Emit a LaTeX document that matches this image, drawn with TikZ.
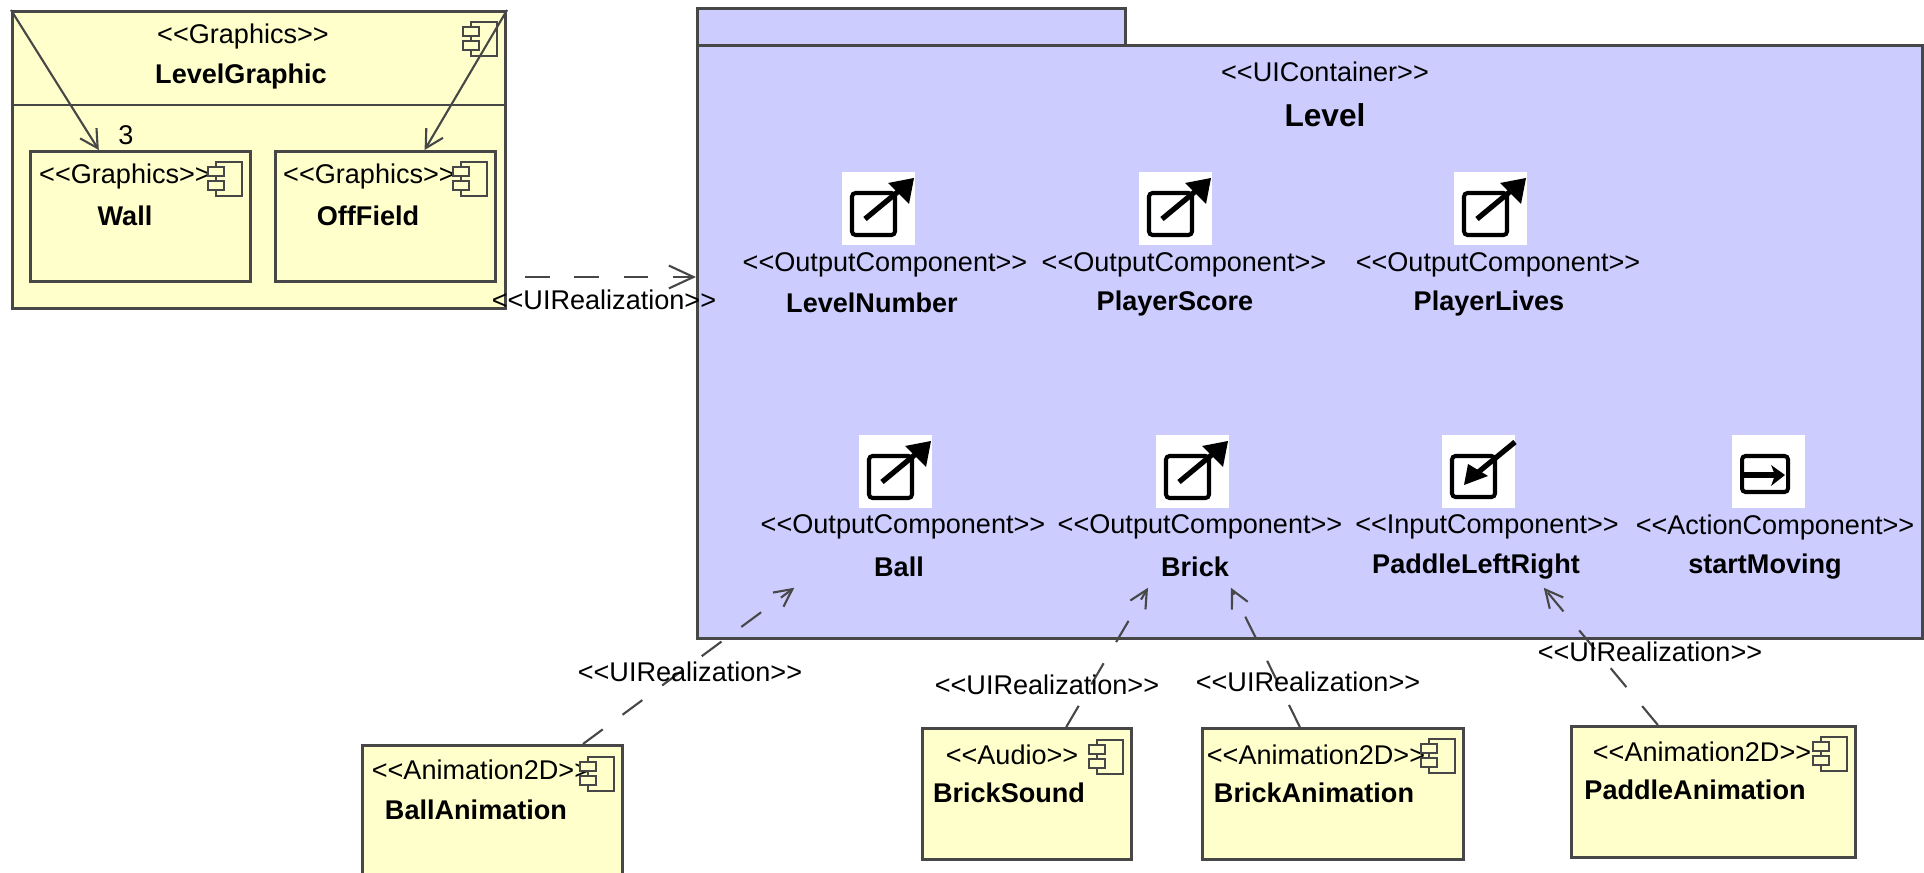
\documentclass[tikz,border=0pt]{standalone}
\usepackage{fontspec}
\newfontfamily\uisf{Liberation Sans}
\usetikzlibrary{arrows.meta}

\definecolor{compyellow}{HTML}{FFFFCC}
\definecolor{pkgblue}{HTML}{CCCCFF}
\definecolor{umlgray}{HTML}{474747}

\tikzset{
  boxline/.style={draw=umlgray, line width=0.8pt},
  compbox/.style={boxline, fill=compyellow, anchor=north west, inner sep=0pt},
  pkgbox/.style={boxline, fill=pkgblue, anchor=north west, inner sep=0pt},
  uibox/.style={inner sep=0pt, minimum width=2.9cm, minimum height=1.52cm},
  stereo/.style={font=\uisf\fontsize{7.7}{9}\selectfont, inner sep=0pt},
  cname/.style={font=\uisf\bfseries\fontsize{7.7}{9}\selectfont, inner sep=0pt},
  nest/.style={draw=umlgray, line width=0.6pt, -{Straight Barb[length=5pt,width=5.5pt]}},
  uireal/.style={draw=umlgray, line width=0.6pt, dash pattern=on 7pt off 7pt,
    -{Straight Barb[length=5pt,width=5pt]}},
  iconline/.style={draw=umlgray, line width=0.55pt}
}

% little component symbol, top left corner at #1,#2
\newcommand{\compicon}[2]{%
  \begin{scope}[shift={(#1,#2)}]
    \draw[iconline, fill=compyellow] (8,0) rectangle (34,34);
    \draw[iconline, fill=compyellow] (0,5) rectangle (16,14);
    \draw[iconline, fill=compyellow] (0,19) rectangle (16,28);
  \end{scope}}
% output, input and action pictograms
\newcommand{\outicon}[2]{%
  \begin{scope}[shift={(#1,#2)}]
    \fill[white] (0,0) rectangle (73,73);
    \draw[line width=1.15pt, rounded corners=1pt] (10,21) rectangle (53,63);
    \draw[line width=1.5pt] (23,47) -- (58,18);
    \fill (46,11) -- (72,6) -- (67,32) -- cycle;
  \end{scope}}
\newcommand{\inicon}[2]{%
  \begin{scope}[shift={(#1,#2)}]
    \fill[white] (0,0) rectangle (73,73);
    \draw[line width=1.15pt, rounded corners=1pt] (10,21) rectangle (53,62);
    \draw[line width=1.5pt] (73,7) -- (34,39);
    \fill (22,50) -- (26,29) -- (46,41) -- cycle;
  \end{scope}}
\newcommand{\acticon}[2]{%
  \begin{scope}[shift={(#1,#2)}]
    \fill[white] (0,0) rectangle (73,73);
    \draw[line width=1.15pt, rounded corners=1pt] (10,21) rectangle (56,57);
    \draw[line width=1.5pt] (10,40) -- (46,40);
    \fill (39,30) -- (53,40) -- (39,51) -- (43,40) -- cycle;
  \end{scope}}

\begin{document}
\begin{tikzpicture}[x=0.01cm, y=-0.01cm]
\clip (0,0) rectangle (1924,873);

% graphics of the level
\node[compbox, minimum width=4.93cm, minimum height=2.97cm] (lvlgfx) at (11,10) {};
\draw[boxline] (11,105) -- (504,105);
\compicon{463}{22}
\node[stereo] at (243,37) {<<Graphics>>};
\node[cname] at (241,77) {LevelGraphic};

\node[compbox, minimum width=2.2cm, minimum height=1.3cm] (wall) at (29,150) {};
\node[stereo] at (125,177) {<<Graphics>>};
\compicon{208}{162}
\node[cname] at (125,216) {Wall};

\node[compbox, minimum width=2.2cm, minimum height=1.3cm] (offfield) at (274,150) {};
\node[stereo] at (369,177) {<<Graphics>>};
\compicon{453}{162}
\node[cname] at (368,216) {OffField};

\draw[nest] (lvlgfx.north west) -- (wall);
\draw[nest] (lvlgfx.north east) -- (offfield);
\node[stereo] at (126,135) {3};

% the level container
\node[pkgbox, minimum width=4.28cm, minimum height=0.37cm] (leveltab) at (696,7) {};
\node[pkgbox, minimum width=12.24cm, minimum height=5.93cm] (level) at (696,44) {};
\node[stereo] at (1325,72) {<<UIContainer>>};
\node[cname, font=\uisf\bfseries\fontsize{9}{11}\selectfont] at (1325,115) {Level};

\node[uibox] (levelnumber) at (878,244) {};
\outicon{842}{172}
\node[stereo] at (885,265) {<<OutputComponent>>};
\node[cname] at (872,303) {LevelNumber};

\node[uibox] (playerscore) at (1176,244) {};
\outicon{1139}{172}
\node[stereo] at (1184,265) {<<OutputComponent>>};
\node[cname] at (1175,303) {PlayerScore};

\node[uibox] (playerlives) at (1491,244) {};
\outicon{1454}{172}
\node[stereo] at (1498,265) {<<OutputComponent>>};
\node[cname] at (1489,303) {PlayerLives};

\node[uibox] (ball) at (898,511) {};
\outicon{859}{435}
\node[stereo] at (903,527) {<<OutputComponent>>};
\node[cname] at (899,567) {Ball};

\node[uibox] (brick) at (1193,511) {};
\outicon{1156}{435}
\node[stereo] at (1200,527) {<<OutputComponent>>};
\node[cname] at (1195,567) {Brick};

\node[uibox] (paddlelr) at (1480,511) {};
\inicon{1442}{435}
\node[stereo] at (1487,527) {<<InputComponent>>};
\node[cname] at (1476,567) {PaddleLeftRight};

\node[uibox] (startmoving) at (1768,511) {};
\acticon{1732}{435}
\node[stereo] at (1775,527) {<<ActionComponent>>};
\node[cname] at (1765,567) {startMoving};

% realizations
\coordinate (uirow) at (600,277);
\draw[uireal, dash phase=8.9pt, -{Straight Barb[length=7pt,width=6.5pt]}] (lvlgfx.east |- uirow) -- (level.west |- uirow);
\node[stereo] at (604,300) {<<UIRealization>>};

\node[compbox, minimum width=2.6cm, minimum height=1.31cm] (ballanim) at (361,744) {};
\node[stereo] at (481,770) {<<Animation2D>>};
\compicon{580}{757}
\node[cname] at (476,810) {BallAnimation};
\draw[uireal] (ballanim) -- (ball);
\node[stereo] at (690,672) {<<UIRealization>>};

\node[compbox, minimum width=2.09cm, minimum height=1.31cm] (bricksound) at (921,727) {};
\node[stereo] at (1012,755) {<<Audio>>};
\compicon{1089}{740}
\node[cname] at (1009,793) {BrickSound};
\draw[uireal] (bricksound) -- (brick);
\node[stereo] at (1047,685) {<<UIRealization>>};

\node[compbox, minimum width=2.61cm, minimum height=1.31cm] (brickanim) at (1201,727) {};
\node[stereo] at (1316,755) {<<Animation2D>>};
\compicon{1421}{739}
\node[cname] at (1314,793) {BrickAnimation};
\draw[uireal] (brickanim) -- (brick);
\node[stereo] at (1308,682) {<<UIRealization>>};

\node[compbox, minimum width=2.84cm, minimum height=1.31cm] (paddleanim) at (1570,725) {};
\node[stereo] at (1702,752) {<<Animation2D>>};
\compicon{1813}{737}
\node[cname] at (1695,790) {PaddleAnimation};
\draw[uireal] (paddleanim) -- (paddlelr);
\node[stereo] at (1650,652) {<<UIRealization>>};
\end{tikzpicture}
\end{document}
